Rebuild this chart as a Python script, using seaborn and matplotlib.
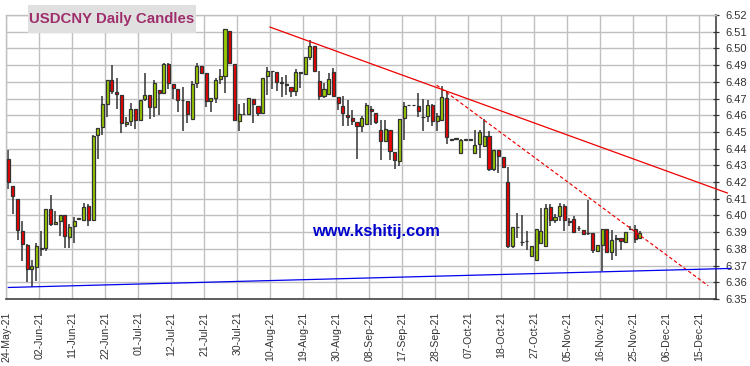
### USDCNY 일봉 캔들 차트 다시 그리기

import numpy as np
import pandas as pd
import matplotlib
matplotlib.use('Agg')
import matplotlib.pyplot as plt
from matplotlib.patches import Rectangle
import seaborn as sns

# 캔들 데이터 (2021-05-24 부터 영업일 기준)
opens = [6.4340, 6.4176, 6.4098, 6.3906, 6.3822, 6.3678, 6.3690, 6.3800, 6.3808, 6.4038,
         6.3950, 6.3964, 6.4002, 6.3870, 6.3936, 6.3980, 6.3972, 6.4054, 6.3972, 6.4482,
         6.4532, 6.4670, 6.4810, 6.4742, 6.4722, 6.4550, 6.4568, 6.4638, 6.4574, 6.4698,
         6.4724, 6.4650, 6.4752, 6.4736, 6.4904, 6.4788, 6.4758, 6.4694, 6.4688, 6.4578,
         6.4794, 6.4896, 6.4850, 6.4688, 6.4704, 6.4818, 6.4834, 6.5106, 6.4908, 6.4568,
         6.4606, 6.4608, 6.4698, 6.4658, 6.4612, 6.4832, 6.4866, 6.4856, 6.4796, 6.4784,
         6.4772, 6.4746, 6.4856, 6.4848, 6.4950, 6.5016, 6.4806, 6.4716, 6.4726, 6.4856,
         6.4710, 6.4656, 6.4604, 6.4584, 6.4562, 6.4536, 6.4548, 6.4640, 6.4616, 6.4514,
         6.4446, 6.4514, 6.4378, 6.4326, 6.4584, 6.4660, 6.4660, 6.4656, 6.4592, 6.4594,
         6.4662, 6.4566, 6.4574, 6.4704, 6.4454, 6.4460, 6.4374, 6.4454, 6.4454, 6.4374,
         6.4428, 6.4416, 6.4474, 6.4278, 6.4392, 6.4350, 6.4200, 6.3820, 6.3930, 6.3840,
         6.3846, 6.3760, 6.3732, 6.3834, 6.3820, 6.4050, 6.3974, 6.3994, 6.4058, 6.3966,
         6.3978, 6.3924, 6.3914, 6.3894, 6.3894, 6.3790, 6.3826, 6.3918, 6.3782, 6.3862,
         6.3864, 6.3844, 6.3918, 6.3918, 6.3864]
highs = [6.4394, 6.4176, 6.4100, 6.3966, 6.3830, 6.3734, 6.3838, 6.3908, 6.4038, 6.4120,
         6.4028, 6.4004, 6.4002, 6.3950, 6.3990, 6.3980, 6.4074, 6.4068, 6.4480, 6.4524,
         6.4718, 6.4810, 6.4898, 6.4824, 6.4722, 6.4590, 6.4674, 6.4638, 6.4692, 6.4850,
         6.4724, 6.4810, 6.4752, 6.4914, 6.4914, 6.4788, 6.4758, 6.4770, 6.4688, 6.4804,
         6.4914, 6.4896, 6.4850, 6.4704, 6.4824, 6.4874, 6.5114, 6.5106, 6.4908, 6.4670,
         6.4674, 6.4704, 6.4698, 6.4658, 6.4824, 6.4888, 6.4866, 6.4856, 6.4830, 6.4838,
         6.4772, 6.4874, 6.4856, 6.4950, 6.5048, 6.5016, 6.4866, 6.4790, 6.4850, 6.4880,
         6.4710, 6.4718, 6.4694, 6.4634, 6.4562, 6.4598, 6.4674, 6.4654, 6.4616, 6.4574,
         6.4574, 6.4514, 6.4378, 6.4578, 6.4682, 6.4660, 6.4660, 6.4734, 6.4700, 6.4694,
         6.4670, 6.4614, 6.4774, 6.4744, 6.4454, 6.4460, 6.4458, 6.4454, 6.4454, 6.4510,
         6.4514, 6.4578, 6.4508, 6.4392, 6.4392, 6.4350, 6.4290, 6.3930, 6.4014, 6.4004,
         6.3908, 6.3820, 6.3918, 6.4044, 6.4066, 6.4070, 6.4008, 6.4074, 6.4070, 6.3984,
         6.3994, 6.3936, 6.3914, 6.4094, 6.3894, 6.3824, 6.3918, 6.3918, 6.3914, 6.3884,
         6.3864, 6.3904, 6.3934, 6.3940, 6.3910]
lows = [6.4158, 6.4010, 6.3854, 6.3730, 6.3604, 6.3570, 6.3610, 6.3760, 6.3788, 6.3934,
        6.3940, 6.3880, 6.3804, 6.3808, 6.3834, 6.3980, 6.3968, 6.3934, 6.3970, 6.4338,
        6.4482, 6.4590, 6.4728, 6.4638, 6.4494, 6.4528, 6.4538, 6.4518, 6.4574, 6.4684,
        6.4578, 6.4590, 6.4600, 6.4736, 6.4760, 6.4698, 6.4622, 6.4504, 6.4554, 6.4578,
        6.4764, 6.4845, 6.4648, 6.4618, 6.4674, 6.4784, 6.4734, 6.4914, 6.4564, 6.4504,
        6.4604, 6.4608, 6.4552, 6.4594, 6.4612, 6.4720, 6.4760, 6.4744, 6.4708, 6.4724,
        6.4710, 6.4714, 6.4762, 6.4840, 6.4930, 6.4866, 6.4690, 6.4702, 6.4722, 6.4716,
        6.4630, 6.4534, 6.4538, 6.4544, 6.4338, 6.4500, 6.4544, 6.4542, 6.4548, 6.4330,
        6.4444, 6.4334, 6.4278, 6.4294, 6.4454, 6.4660, 6.4660, 6.4590, 6.4506, 6.4560,
        6.4534, 6.4506, 6.4574, 6.4428, 6.4454, 6.4460, 6.4374, 6.4454, 6.4454, 6.4374,
        6.4342, 6.4416, 6.4264, 6.4264, 6.4252, 6.4290, 6.3808, 6.3806, 6.3868, 6.3820,
        6.3794, 6.3760, 6.3732, 6.3834, 6.3820, 6.3934, 6.3954, 6.3964, 6.3910, 6.3934,
        6.3904, 6.3908, 6.3890, 6.3884, 6.3774, 6.3790, 6.3670, 6.3782, 6.3734, 6.3758,
        6.3794, 6.3844, 6.3914, 6.3834, 6.3864]
closes = [6.4200, 6.4118, 6.3912, 6.3830, 6.3678, 6.3696, 6.3816, 6.3805, 6.4038, 6.3950,
          6.3960, 6.4004, 6.3876, 6.3930, 6.3968, 6.3980, 6.4052, 6.3972, 6.4476, 6.4524,
          6.4668, 6.4810, 6.4746, 6.4728, 6.4552, 6.4558, 6.4638, 6.4574, 6.4692, 6.4722,
          6.4650, 6.4794, 6.4734, 6.4904, 6.4794, 6.4762, 6.4692, 6.4690, 6.4610, 6.4788,
          6.4896, 6.4854, 6.4688, 6.4704, 6.4812, 6.4832, 6.5114, 6.4914, 6.4572, 6.4608,
          6.4607, 6.4704, 6.4668, 6.4612, 6.4824, 6.4866, 6.4864, 6.4798, 6.4792, 6.4778,
          6.4746, 6.4860, 6.4854, 6.4950, 6.5016, 6.4866, 6.4716, 6.4758, 6.4818, 6.4716,
          6.4674, 6.4614, 6.4590, 6.4564, 6.4534, 6.4584, 6.4662, 6.4624, 6.4560, 6.4446,
          6.4520, 6.4386, 6.4332, 6.4578, 6.4656, 6.4660, 6.4660, 6.4624, 6.4590, 6.4662,
          6.4566, 6.4596, 6.4710, 6.4470, 6.4454, 6.4460, 6.4454, 6.4454, 6.4454, 6.4422,
          6.4500, 6.4474, 6.4278, 6.4392, 6.4358, 6.4290, 6.3820, 6.3930, 6.3928, 6.3840,
          6.3846, 6.3820, 6.3918, 6.3910, 6.4046, 6.3974, 6.3992, 6.4058, 6.3972, 6.3962,
          6.3904, 6.3924, 6.3890, 6.3894, 6.3794, 6.3824, 6.3918, 6.3782, 6.3852, 6.3862,
          6.3846, 6.3904, 6.3918, 6.3862, 6.3898]

start_date = '2021-05-24'
axis_days = 148          # 15-Dec-21 까지 눈금
y_ticks = [6.35, 6.36, 6.37, 6.38, 6.39, 6.40, 6.41, 6.42, 6.43,
           6.44, 6.45, 6.46, 6.47, 6.48, 6.49, 6.50, 6.51, 6.52]

# 추세선 기준점 (영업일 번호, 가격)
resist_x = [55.5, 152.6]
resist_y = [6.5128, 6.4134]
fast_x = [90.9, 148.5]
fast_y = [6.4780, 6.3579]
support_x = [0, 153.3]
support_y = [6.3569, 6.3683]

title = 'USDCNY Daily Candles'
watermark = 'www.kshitij.com'

# 데이터프레임 만들기
df = pd.DataFrame({'open': opens, 'high': highs, 'low': lows, 'close': closes})
df['day'] = np.arange(len(df))
df['bottom'] = df[['open', 'close']].min(axis=1)
df['height'] = (df['close'] - df['open']).abs().clip(lower=0.0002)
df['color'] = np.where(df['close'] >= df['open'], '#99cc00', '#ee0000')

dates = pd.bdate_range(start_date, periods=axis_days)
tick_pos = np.arange(0, axis_days, 7)
tick_lab = [dates[i].strftime('%d-%b-%y') for i in tick_pos]

sns.set_style('white')
plt.rcParams['font.family'] = ['Liberation Sans', 'DejaVu Sans']

fig = plt.figure(figsize=(7.5, 3.66), dpi=100)
ax = fig.add_axes([6 / 750, 1 - 299 / 366, 710 / 750, 284 / 366])

# 심지와 몸통
ax.vlines(df['day'], df['low'], df['high'], color='#333333', lw=1.1, zorder=2)
ax.bar(df['day'], df['height'], bottom=df['bottom'], width=0.66,
       color=df['color'], edgecolor='#333333', linewidth=0.9, zorder=3)

# 추세선
sns.lineplot(x=resist_x, y=resist_y, color='#ee0000', lw=0.9, ax=ax)
sns.lineplot(x=fast_x, y=fast_y, color='#ee0000', lw=0.85, ax=ax)
sns.lineplot(x=support_x, y=support_y, color='#0000ee', lw=0.9, ax=ax)
for ln in ax.lines:
    ln.set_clip_on(False)
    ln.set_zorder(4)
ax.lines[1].set_dashes((3, 2))

ax.set_xlim(-0.47, 150.15)
ax.set_ylim(6.35, 6.52)
ax.set_xticks(tick_pos - 0.4)
ax.set_xticklabels(tick_lab, rotation=90, fontsize=7.6, color='#333333')
ax.yaxis.tick_right()
ax.set_yticks(y_ticks)
ax.set_yticklabels(['%.2f' % v for v in y_ticks], fontsize=8, color='#333333')
ax.tick_params(axis='x', direction='inout', length=6, width=0.9, color='#333333', pad=6)
ax.tick_params(axis='y', direction='inout', length=5, width=0.9, color='#333333', pad=4)

ax.grid(True, color='#c0c0c0', lw=1)
ax.set_axisbelow(True)
for s in ['left', 'top']:
    ax.spines[s].set_color('#c0c0c0')
    ax.spines[s].set_linewidth(1)
for s in ['right', 'bottom']:
    ax.spines[s].set_color('#333333')
    ax.spines[s].set_linewidth(1.1)

ax.text(0.521, 0.239, watermark, transform=ax.transAxes, ha='center', va='center',
        fontsize=11.8, fontweight='bold', color='#0000cc', zorder=5)

# 제목 상자
fig.patches.append(Rectangle((28 / 750, 1 - 33 / 366), 168 / 750, 28 / 366,
                             transform=fig.transFigure, facecolor='#e0e0e0',
                             edgecolor='none', zorder=5))
fig.text(112 / 750, 1 - 19 / 366, title, ha='center', va='center',
         fontsize=10.8, fontweight='bold', color='#9e2f6c', zorder=6)

fig.savefig('out.png', dpi=100)
